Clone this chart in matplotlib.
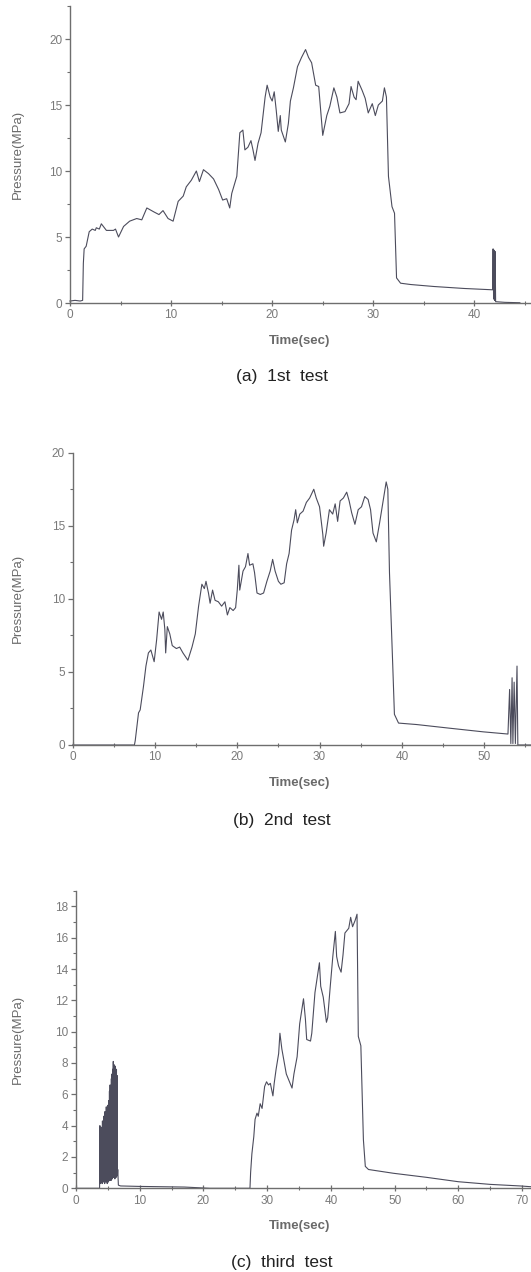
import matplotlib
matplotlib.use("Agg")
import matplotlib.pyplot as plt
from matplotlib.ticker import MultipleLocator

plt.rcParams['font.family'] = ['Liberation Sans', 'DejaVu Sans']

# ---------------- data ----------------
# (a) 1st test
t1 = [0, 0.5, 1.0, 1.25, 1.32, 1.4, 1.6, 1.9, 2.2, 2.5, 2.6, 2.9, 3.1, 3.6, 4.3, 4.5, 4.8,
      5.3, 5.9, 6.6, 7.1, 7.6, 8.3, 8.8, 9.2, 9.7, 10.2, 10.7, 11.2, 11.5, 12.0, 12.5, 12.8,
      13.2, 13.7, 14.2, 14.7, 15.1, 15.5, 15.8, 16.0, 16.5, 16.8, 17.1, 17.3, 17.6, 17.9,
      18.1, 18.3, 18.6, 18.9, 19.3, 19.5, 19.8, 20.0, 20.2, 20.4, 20.6, 20.8, 20.9, 21.3,
      21.6, 21.8, 22.1, 22.5, 22.9, 23.3, 23.6, 23.9, 24.3, 24.6, 25.0, 25.4, 25.7, 26.1,
      26.4, 26.7, 27.2, 27.6, 27.8, 28.1, 28.3, 28.5, 28.9, 29.2, 29.5, 29.9, 30.2, 30.5,
      30.9, 31.1, 31.3, 31.5, 31.85, 32.1, 32.3, 32.7, 33.7, 36.0, 39.0, 41.8,
      41.85, 41.9, 41.95, 42.0, 42.05, 42.1, 43.0, 44.5]
p1 = [0.15, 0.2, 0.15, 0.2, 3.0, 4.1, 4.3, 5.4, 5.6, 5.5, 5.7, 5.6, 6.0, 5.5, 5.5, 5.6, 5.0,
      5.8, 6.2, 6.4, 6.3, 7.2, 6.9, 6.7, 7.0, 6.4, 6.2, 7.7, 8.1, 8.8, 9.3, 10.0, 9.2,
      10.1, 9.8, 9.4, 8.6, 7.8, 7.9, 7.2, 8.3, 9.6, 12.9, 13.1, 11.6, 11.8, 12.3,
      11.6, 10.8, 12.1, 12.9, 15.6, 16.5, 15.6, 15.3, 16.0, 14.6, 13.0, 14.2, 13.1, 12.2,
      13.6, 15.3, 16.3, 17.9, 18.6, 19.2, 18.6, 18.2, 16.5, 16.4, 12.7, 14.2, 14.9, 16.3,
      15.6, 14.4, 14.5, 15.1, 16.4, 15.6, 15.4, 16.8, 16.1, 15.5, 14.4, 15.1, 14.2, 15.0,
      15.3, 16.3, 15.6, 9.6, 7.3, 6.8, 1.9, 1.5, 1.4, 1.25, 1.1, 1.0,
      4.1, 0.3, 4.0, 0.2, 3.9, 0.1, 0.05, 0.02]

# (b) 2nd test
t2 = [0, 7.5, 7.6, 8.0, 8.2, 8.6, 8.9, 9.2, 9.5, 9.9, 10.2, 10.5, 10.8, 11.0, 11.2, 11.3,
      11.5, 11.8, 12.1, 12.6, 13.0, 13.4, 14.0, 14.5, 14.9, 15.3, 15.7, 16.0, 16.2, 16.5,
      16.7, 17.0, 17.3, 17.7, 18.1, 18.5, 18.8, 19.1, 19.5, 19.8, 20.0, 20.2, 20.3, 20.7,
      21.0, 21.3, 21.5, 21.9, 22.1, 22.4, 22.8, 23.2, 23.6, 24.0, 24.3, 24.6, 25.0, 25.3,
      25.7, 26.0, 26.3, 26.6, 26.9, 27.1, 27.3, 27.6, 28.0, 28.4, 28.8, 29.3, 29.6, 30.0,
      30.4, 30.5, 30.8, 31.2, 31.6, 31.9, 32.2, 32.5, 32.9, 33.3, 33.6, 33.9, 34.3, 34.7,
      35.1, 35.5, 35.9, 36.2, 36.5, 36.9, 37.3, 37.7, 38.1, 38.3, 38.5, 38.9, 39.1, 39.6,
      41.8, 45.8, 49.9, 52.9,
      53.1, 53.25, 53.4, 53.5, 53.65, 53.8, 54.0, 54.1, 55.7]
p2 = [0, 0, 0.3, 2.2, 2.4, 4.0, 5.4, 6.3, 6.5, 5.7, 7.2, 9.1, 8.6, 9.1, 7.9, 6.3,
      8.1, 7.6, 6.8, 6.6, 6.7, 6.3, 5.8, 6.7, 7.6, 9.5, 11.0, 10.7, 11.2, 10.4,
      9.7, 10.6, 9.9, 9.8, 9.5, 9.8, 8.9, 9.4, 9.2, 9.4, 10.6, 12.3, 10.6, 11.9,
      12.2, 13.1, 12.3, 12.4, 11.8, 10.4, 10.3, 10.4, 11.2, 11.9, 12.7, 11.9, 11.2, 11.0,
      11.1, 12.4, 13.1, 14.7, 15.4, 16.1, 15.2, 15.8, 16.0, 16.6, 16.9, 17.5, 16.9, 16.3,
      14.4, 13.6, 14.5, 16.1, 15.8, 16.5, 15.3, 16.7, 16.9, 17.3, 16.7, 15.9, 15.1, 16.1,
      16.3, 17.0, 16.8, 16.1, 14.5, 13.9, 15.2, 16.6, 18.0, 17.5, 11.8, 5.4, 2.1, 1.5,
      1.4, 1.15, 0.9, 0.75,
      3.8, 0.1, 4.6, 0.1, 4.3, 0.1, 5.4, 0.0, 0.0]

# (c) third test
t3 = [0, 3.7,
      3.75, 3.80, 3.85, 3.90, 3.95, 4.00, 4.05, 4.10, 4.15, 4.20, 4.25, 4.30, 4.35, 4.40,
      4.45, 4.50, 4.55, 4.60, 4.65, 4.70, 4.75, 4.80, 4.85, 4.90, 4.95, 5.00, 5.05, 5.10,
      5.15, 5.20, 5.25, 5.30, 5.35, 5.40, 5.45, 5.50, 5.55, 5.60, 5.65, 5.70, 5.75, 5.80,
      5.85, 5.90, 5.95, 6.00, 6.05, 6.10, 6.15, 6.20, 6.25, 6.30, 6.35, 6.40, 6.45, 6.50,
      6.55, 6.65,
      7.0, 10.0, 14.0, 17.0, 20.0, 21.0, 27.3,
      27.4, 27.6, 27.9, 28.1, 28.4, 28.6, 28.9, 29.2, 29.6, 29.9, 30.2, 30.5, 30.9, 31.1,
      31.4, 31.8, 32.0, 32.3, 32.6, 33.0, 33.4, 33.9, 34.2, 34.7, 35.1, 35.4, 35.7, 36.0,
      36.2, 36.8, 37.0, 37.5, 37.8, 38.2, 38.4, 38.8, 39.3, 39.5, 39.9, 40.3, 40.7, 40.9,
      41.2, 41.6, 41.9, 42.2, 42.8, 43.1, 43.4, 43.8, 44.1, 44.3, 44.7, 45.1, 45.4, 45.9,
      47.5, 49.8, 55.0, 60.0, 65.0, 69.7, 71.4]
p3 = [0, 0,
      4.0, 0.3, 3.6, 0.5, 3.9, 0.4, 2.8, 0.3, 4.3, 0.6, 3.5, 0.4, 4.6, 0.5,
      3.9, 0.3, 4.9, 0.6, 4.2, 0.4, 5.2, 0.5, 4.4, 0.3, 5.3, 0.7, 4.8, 0.4,
      5.6, 0.6, 6.2, 0.5, 6.6, 0.8, 6.0, 0.5, 7.0, 0.7, 7.3, 0.6, 7.6, 0.9,
      8.1, 0.7, 7.9, 0.8, 7.5, 0.6, 7.8, 0.9, 7.4, 0.7, 7.6, 1.0, 7.2, 0.8,
      1.2, 0.2,
      0.15, 0.12, 0.1, 0.08, 0.02, 0.0, 0.0,
      1.0, 2.2, 3.3, 4.4, 4.8, 4.6, 5.4, 5.1, 6.5, 6.8, 6.6, 6.7, 5.9, 6.7,
      7.6, 8.6, 9.9, 8.9, 8.2, 7.3, 6.9, 6.4, 7.3, 8.4, 10.5, 11.3, 12.1, 10.8,
      9.5, 9.4, 9.9, 12.5, 13.3, 14.4, 12.9, 12.2, 10.6, 10.9, 12.9, 14.8, 16.4, 14.8,
      14.2, 13.8, 14.9, 16.3, 16.6, 17.3, 16.7, 17.1, 17.5, 9.7, 9.1, 3.1, 1.4, 1.2,
      1.1, 0.96, 0.7, 0.42, 0.25, 0.15, 0.1]

captions = ["(a)  1st  test", "(b)  2nd  test", "(c)  third  test"]
x_label = "Time(sec)"
y_label = "Pressure(MPa)"

# ---------------- figure ----------------
W, H = 531, 1272
fig = plt.figure(figsize=(W / 100, H / 100), dpi=100)
fig.patch.set_facecolor("white")

line_c = "#4c4c5c"
axis_c = "#6e6e6e"
tick_c = "#7a7a7a"

# panel geometry in pixels: left, right, top, bottom (of axes)
panels = [
    dict(t=t1, p=p1, px=(70, 531, 6, 303), xlim=(0, 45.6), ylim=(0, 22.5),
         xmaj=10, xmin=5, ymaj=5, ymin=2.5, cap_y=377),
    dict(t=t2, p=p2, px=(72.7, 531, 452.7, 745), xlim=(0, 55.7), ylim=(0, 20),
         xmaj=10, xmin=5, ymaj=5, ymin=2.5, cap_y=820),
    dict(t=t3, p=p3, px=(76, 531, 890.7, 1188.3), xlim=(0, 71.4), ylim=(0, 19.0),
         xmaj=10, xmin=5, ymaj=2, ymin=1, cap_y=1262),
]

for i, pan in enumerate(panels):
    l, r, tp, bt = pan["px"]
    ax = fig.add_axes([l / W, 1 - bt / H, (r - l) / W, (bt - tp) / H])
    lc = line_c
    ax.plot(pan["t"], pan["p"], color=lc, lw=0.8, clip_on=False)
    ax.set_xlim(*pan["xlim"])
    ax.set_ylim(*pan["ylim"])
    for s in ("top", "right"):
        ax.spines[s].set_visible(False)
    for s in ("left", "bottom"):
        ax.spines[s].set_color(axis_c)
        ax.spines[s].set_linewidth(1.0)
    ax.xaxis.set_major_locator(MultipleLocator(pan["xmaj"]))
    ax.xaxis.set_minor_locator(MultipleLocator(pan["xmin"]))
    ax.yaxis.set_major_locator(MultipleLocator(pan["ymaj"]))
    ax.yaxis.set_minor_locator(MultipleLocator(pan["ymin"]))
    ax.tick_params(axis="x", which="major", direction="inout", length=5, width=0.9,
                   color=axis_c, labelcolor=tick_c, labelsize=8.5, pad=2)
    ax.tick_params(axis="x", which="minor", direction="inout", length=3.5, width=0.8,
                   color=axis_c)
    ax.tick_params(axis="y", which="major", direction="out", length=3.5, width=0.9,
                   color=axis_c, labelcolor=tick_c, labelsize=8.5, pad=2)
    ax.tick_params(axis="y", which="minor", direction="out", length=2.5, width=0.8,
                   color=axis_c)
    ax.set_xlabel(x_label, fontsize=9.5, fontweight="bold", color="#6a6a6a")
    ax.set_ylabel(y_label, fontsize=9.5, color="#6a6a6a")
    axw = r - l
    axh = bt - tp
    ax.yaxis.set_label_coords((24 - l) / axw, 0.5)
    ax.xaxis.set_label_coords((300 - l) / axw, -(32) / axh)
    fig.text(282 / W, 1 - pan["cap_y"] / H, captions[i], ha="center", va="center",
             fontsize=12.5, color="#222222")

fig.savefig("out.png", dpi=100, facecolor="white")
